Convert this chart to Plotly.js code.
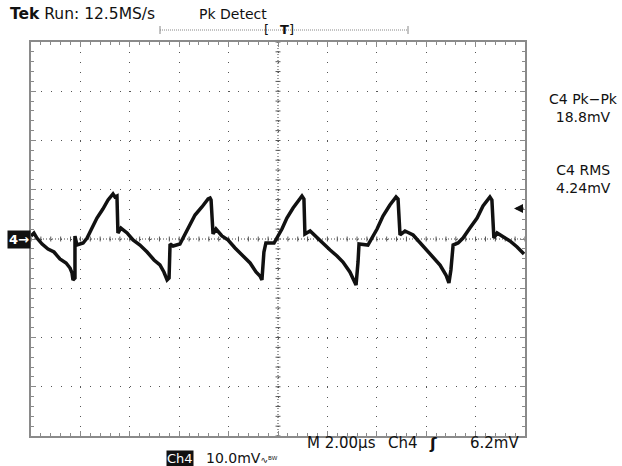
<!DOCTYPE html>
<html><head><meta charset="utf-8">
<script src="https://cdn.plot.ly/plotly-3.0.1.min.js"></script>
<style>html,body{margin:0;padding:0;background:#fff}#chart{width:622px;height:466px}</style>
</head><body><div id="chart"></div><script>
// Channel 4 waveform, time in microseconds, voltage in millivolts
const timeUs = [0,0.12,0.24,0.45,0.69,0.93,1.17,1.42,1.58,1.66,
1.70,1.78,1.78,1.86,2.11,2.27,2.47,2.67,2.91,3.12,
3.32,3.40,3.48,3.52,3.64,3.89,4.13,4.41,4.70,4.98,
5.22,5.38,5.51,5.59,5.63,5.75,6.03,6.23,6.44,6.64,
6.92,7.17,7.25,7.29,7.37,7.49,7.73,7.98,8.26,8.54,
8.87,9.11,9.27,9.35,9.43,9.51,9.84,10.16,10.36,10.61,
10.85,10.97,11.05,11.09,11.30,11.54,11.82,12.11,12.39,12.63,
12.91,13.12,13.16,13.24,13.28,13.64,14.01,14.25,14.53,14.78,
14.86,14.94,15.14,15.47,15.75,16.03,16.28,16.56,16.80,16.92,
17.00,17.09,17.29,17.49,17.77,18.06,18.30,18.54,18.58,18.66,
18.74,18.87,19.11,19.39,19.68,19.96];
const voltageMv = [0.61,1.22,0.20,-1.02,-2.03,-2.64,-4.06,-4.87,-5.89,-6.90,
-8.32,-7.92,0.61,-1.22,-0.81,0.20,2.23,4.26,6.09,7.92,
9.14,8.53,8.73,1.22,2.23,1.22,-0.20,-1.22,-2.64,-4.26,
-5.28,-6.70,-8.32,-7.92,-1.02,-1.42,-1.02,0.81,2.84,4.87,
6.50,8.12,8.32,7.92,1.02,2.03,0.61,-0.20,-1.83,-3.25,
-4.87,-6.70,-7.51,-8.32,-2.64,-0.81,-0.81,2.03,4.26,6.29,
7.92,8.73,8.12,1.02,1.62,0.41,-0.81,-2.23,-3.45,-4.67,
-6.70,-8.93,-9.34,-4.67,-1.02,-1.22,2.03,4.67,6.90,8.53,
8.12,0.81,1.62,0.81,-0.81,-2.23,-3.65,-5.28,-7.31,-8.93,
-6.29,-1.22,-0.81,0.20,2.23,4.26,6.70,8.32,8.53,7.92,
0.20,1.22,0.41,-0.41,-1.62,-3.05];

const timePerDivUs = 2, voltsPerDivMv = 10, xDivs = 10, yDivs = 8;
const triggerLevelMv = 6.2;
const headerLabels = ['<b>Tek</b> Run: 12.5MS/s', 'Pk Detect'];
const measureLabels = ['C4 Pk\u2212Pk<br>18.8mV', 'C4 RMS<br>4.24mV'];
const footerLabels = ['M 2.00\u00b5s', 'Ch4', '\u0283', '6.2mV', 'Ch4',
  '10.0mV<span style="font-size:9px">\u223f\u1d2e\u1d42</span>'];

const L = 31, R = 525, T = 42, B = 436, W = 622, H = 466;
const px = x => (x - L) / (R - L);
const py = y => (B - y) / (B - T);
const FONT = 'DejaVu Sans, Liberation Sans, sans-serif';
const xMax = timePerDivUs * xDivs, yHalf = voltsPerDivMv * yDivs / 2;

const shapes = [];
// dotted center crosshair
shapes.push({type:'line', xref:'x', yref:'y', x0:0, x1:xMax, y0:0, y1:0, layer:'below', line:{color:'#444', width:1, dash:'1px,2px'}});
shapes.push({type:'line', xref:'x', yref:'y', x0:xMax/2, x1:xMax/2, y0:-yHalf, y1:yHalf, layer:'below', line:{color:'#444', width:1, dash:'1px,2px'}});
for (let i = 0; i <= xDivs * 5; i++) {
  const x = i * timePerDivUs / 5;
  shapes.push({type:'line', xref:'x', yref:'y', x0:x, x1:x, y0:-0.5, y1:0.5, layer:'below', line:{color:'#555', width:1}});
}
for (let j = -yDivs * 5 / 2; j <= yDivs * 5 / 2; j++) {
  const y = j * voltsPerDivMv / 5;
  shapes.push({type:'line', xref:'x', yref:'y', x0:xMax/2 - 0.1, x1:xMax/2 + 0.1, y0:y, y1:y, layer:'below', line:{color:'#555', width:1}});
}
// record window bar at top
shapes.push({type:'line', xref:'paper', yref:'paper', x0:px(160), x1:px(408), y0:py(30), y1:py(30), line:{color:'#888', width:1, dash:'1px,1px'}});
shapes.push({type:'line', xref:'paper', yref:'paper', x0:px(160), x1:px(160), y0:py(26), y1:py(34), line:{color:'#888', width:1}});
shapes.push({type:'line', xref:'paper', yref:'paper', x0:px(408), x1:px(408), y0:py(26), y1:py(34), line:{color:'#888', width:1}});

const ann = (text, x, y, opts={}) => Object.assign({text, xref:'paper', yref:'paper', x, y, showarrow:false,
  xanchor:'left', yanchor:'middle', font:{family:FONT, size:15, color:'#111'}}, opts);

const annotations = [
  ann(headerLabels[0], px(8), py(14), {font:{family:FONT, size:15.5, color:'#111'}}),
  ann(headerLabels[1], px(197), py(14), {font:{family:FONT, size:14, color:'#111'}}),
  ann('[', px(266), py(30), {xanchor:'center', font:{family:FONT, size:13, color:'#111'}}),
  ann('<b>T</b>]', px(287), py(30), {xanchor:'center', font:{family:FONT, size:13, color:'#111'}}),
  ann(measureLabels[0], px(583), py(108), {xanchor:'center', font:{family:FONT, size:14, color:'#111'}}),
  ann(measureLabels[1], px(583), py(179), {xanchor:'center', font:{family:FONT, size:14, color:'#111'}}),
  // trigger level arrow (points left, at the trigger level)
  {text:'', xref:'paper', yref:'y', x:px(514), y:triggerLevelMv, showarrow:true, ax:11, ay:0,
   arrowhead:2, arrowsize:0.9, arrowwidth:2, arrowcolor:'#111', standoff:0},
  // ground marker
  {text:'<b>4\u2192</b>', xref:'paper', yref:'y', x:px(31), y:0, xanchor:'right', yanchor:'middle', showarrow:false,
   bgcolor:'#111', borderpad:1, font:{family:FONT, size:13, color:'#fff'}},
  ann(footerLabels[0], px(305), py(443)),
  ann(footerLabels[1], px(386), py(443)),
  ann('<b>' + footerLabels[2] + '</b>', px(433), py(443), {xanchor:'center', font:{family:FONT, size:16, color:'#111'}}),
  ann(footerLabels[3], px(521), py(443), {xanchor:'right'}),
  {text:footerLabels[4], xref:'paper', yref:'paper', x:px(166), y:py(458), xanchor:'left', yanchor:'middle', showarrow:false,
   bgcolor:'#111', borderpad:0, font:{family:FONT, size:13, color:'#fff'}},
  ann(footerLabels[5], px(204), py(458), {font:{family:FONT, size:14, color:'#111'}})
];

const axisCommon = {showticklabels:false, zeroline:false, showline:true, linecolor:'#8a8a8a', linewidth:2,
  mirror:'allticks', ticks:'inside', ticklen:5, tickcolor:'#8a8a8a', tickwidth:1,
  showgrid:true, gridcolor:'#555', gridwidth:1, fixedrange:true};

const layout = {
  width:W, height:H, margin:{l:L, r:W-R, t:T, b:H-B, pad:0},
  paper_bgcolor:'#fff', plot_bgcolor:'#fff', showlegend:false,
  xaxis:Object.assign({}, axisCommon, {range:[0, xMax], tick0:0, dtick:timePerDivUs, griddash:'1px,8.85px',
    minor:{dtick:timePerDivUs/5, ticks:'inside', ticklen:3, tickcolor:'#8a8a8a', showgrid:false}}),
  yaxis:Object.assign({}, axisCommon, {range:[-yHalf, yHalf], tick0:0, dtick:voltsPerDivMv, griddash:'1px,8.88px',
    minor:{dtick:voltsPerDivMv/5, ticks:'inside', ticklen:3, tickcolor:'#8a8a8a', showgrid:false}}),
  shapes, annotations
};

const trace = {x:timeUs, y:voltageMv, type:'scatter', mode:'lines', line:{color:'#111', width:3.5}, hoverinfo:'skip'};
Plotly.newPlot('chart', [trace], layout, {staticPlot:true, displayModeBar:false});
</script></body></html>
